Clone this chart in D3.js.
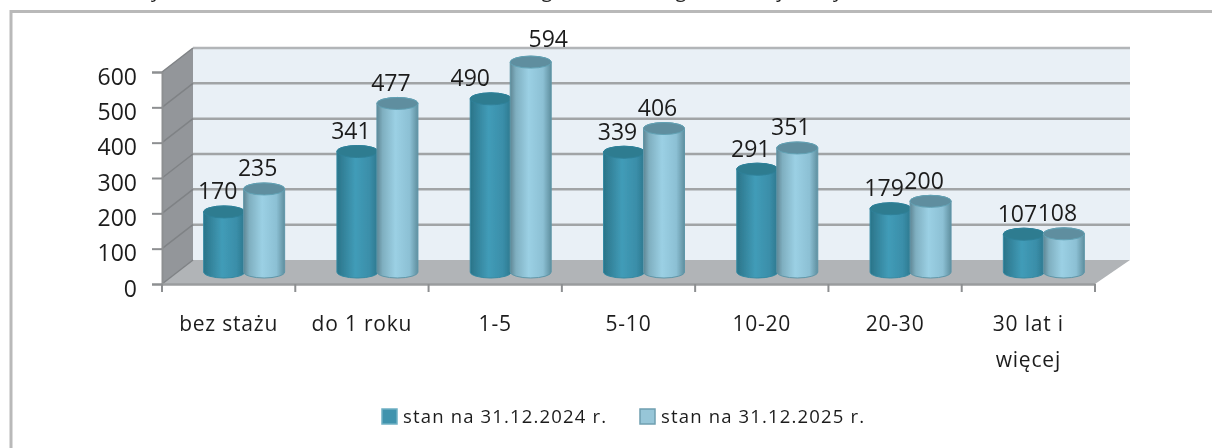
<!DOCTYPE html>
<html>
<head>
<meta charset="utf-8">
<script src="https://cdn.jsdelivr.net/npm/d3@7"></script>
<style>
  html, body { margin: 0; padding: 0; background: #fff; overflow: hidden; }
  text { font-family: "Open Sans", sans-serif; fill: #1c1c1c; }
</style>
</head>
<body>
<div id="chart"></div>
<script>
// values
var categories = ["bez stażu", "do 1 roku", "1-5", "5-10", "10-20", "20-30", "30 lat i więcej"];
var series = ["stan na 31.12.2024 r.", "stan na 31.12.2025 r."];
var values2024 = [170, 341, 490, 339, 291, 179, 107];
var values2025 = [235, 477, 594, 406, 351, 200, 108];
var yTicks = [0, 100, 200, 300, 400, 500, 600];
// bottom edge of the title line above the chart, only the descenders show
var titleLetters = ["y", "g", "g", "j", "y"];

var svgWidth = 1212;
var svgHeight = 448;

// 3d box: front plane and how far the back wall is shifted
var front = { left: 162, right: 1095, top: 72, bottom: 284 };
var depthX = 31;
var depthY = 24;
var backRight = 1130;
var rx = 20.5;
var ry = 6;

var svg = d3.select("#chart")
  .append("svg")
  .attr("width", svgWidth)
  .attr("height", svgHeight);

var defs = svg.append("defs");

// the picture is a soft, upscaled screenshot
defs.append("filter")
  .attr("id", "soft")
  .attr("x", "-2%").attr("y", "-2%").attr("width", "104%").attr("height", "104%")
  .append("feGaussianBlur")
  .attr("stdDeviation", 0.55);

function barGradient(id, stops) {
  var g = defs.append("linearGradient").attr("id", id);
  stops.forEach(function(s) {
    g.append("stop").attr("offset", s[0]).attr("stop-color", s[1]);
  });
}
barGradient("dark", [[0, "#2a7488"], [0.12, "#317f96"], [0.45, "#419cb8"], [0.8, "#3a8ea9"], [1, "#2d788e"]]);
barGradient("light", [[0, "#5f8795"], [0.14, "#7fafc0"], [0.45, "#9bd0e4"], [0.8, "#8cc0d4"], [1, "#5f8f9f"]]);

var chart = svg.append("g").attr("filter", "url(#soft)");

// outer frame, runs off the right and bottom of the picture
chart.append("path")
  .attr("d", "M11,460V11.5H1230")
  .attr("fill", "none")
  .attr("stroke", "#b9b9b9")
  .attr("stroke-width", 3);

chart.selectAll("text.title")
  .data(titleLetters)
  .enter()
  .append("text")
  .attr("class", "title")
  .attr("x", (d, i) => [156, 547, 681, 780, 838][i])
  .attr("y", -3)
  .attr("text-anchor", "middle")
  .attr("font-size", 20)
  .text(d => d);

var x = d3.scaleBand().domain(categories).range([front.left, front.right]);
var y = d3.scaleLinear().domain([0, 600]).range([front.bottom, front.top]);
var inner = d3.scaleBand().domain([0, 1]).range([-40, 40]);

// back wall
chart.append("rect")
  .attr("x", front.left + depthX)
  .attr("y", front.top - depthY)
  .attr("width", backRight - front.left - depthX)
  .attr("height", front.bottom - front.top)
  .attr("fill", "#e9f0f6");

// left wall
chart.append("polygon")
  .attr("points", [
    [front.left, front.top],
    [front.left + depthX, front.top - depthY],
    [front.left + depthX, front.bottom - depthY],
    [front.left, front.bottom]
  ].join(" "))
  .attr("fill", "#93969a");

// floor
chart.append("polygon")
  .attr("points", [
    [front.left, front.bottom],
    [front.left + depthX, front.bottom - depthY],
    [backRight, front.bottom - depthY],
    [front.right, front.bottom]
  ].join(" "))
  .attr("fill", "#b1b4b7");

// gridlines on the back and left walls
chart.selectAll("line.grid")
  .data(yTicks.slice(1))
  .enter()
  .append("line")
  .attr("class", "grid")
  .attr("x1", front.left + depthX)
  .attr("x2", backRight)
  .attr("y1", d => y(d) - depthY)
  .attr("y2", d => y(d) - depthY)
  .attr("stroke", d => d === 600 ? "#b2b5b8" : "#a1a4a6")
  .attr("stroke-width", 2.5);

chart.selectAll("line.side")
  .data(yTicks)
  .enter()
  .append("line")
  .attr("class", "side")
  .attr("x1", front.left)
  .attr("x2", front.left + depthX)
  .attr("y1", d => y(d))
  .attr("y2", d => y(d) - depthY)
  .attr("stroke", "#7f8285")
  .attr("stroke-width", 1.5);

// axes
var yAxis = chart.append("g")
  .attr("transform", `translate(${front.left}, 0)`)
  .call(d3.axisLeft(y).tickValues(yTicks).tickSize(10).tickPadding(15));

var xAxis = chart.append("g")
  .attr("transform", `translate(0, ${front.bottom})`)
  .call(d3.axisBottom(x).tickSize(0).tickFormat(""));

chart.selectAll(".tick line, .domain").attr("stroke", "#8d8f91").attr("stroke-width", 2);
xAxis.select(".domain").attr("stroke", "#9a9c9e").attr("stroke-width", 2.5);
yAxis.selectAll("text")
  .attr("font-size", 23)
  .attr("dy", "0.53em")
  .attr("fill", "#1c1c1c");

// d3 band axis ticks sit mid-band, the chart has them at the band edges
chart.selectAll("line.xtick")
  .data(categories.concat([null]))
  .enter()
  .append("line")
  .attr("class", "xtick")
  .attr("x1", (d, i) => d === null ? front.right : x(d))
  .attr("x2", (d, i) => d === null ? front.right : x(d))
  .attr("y1", front.bottom)
  .attr("y2", front.bottom + 8)
  .attr("stroke", "#8d8f91")
  .attr("stroke-width", 2);

// category labels, long ones wrap on two lines
var catLabels = chart.selectAll("text.cat")
  .data(categories)
  .enter()
  .append("text")
  .attr("class", "cat")
  .attr("text-anchor", "middle")
  .attr("font-size", 21)
  .attr("letter-spacing", 0.8)
  .attr("y", 331);

catLabels.each(function(d) {
  var lines = d === "30 lat i więcej" ? ["30 lat i", "więcej"] : [d];
  var t = d3.select(this);
  lines.forEach(function(line, i) {
    t.append("tspan")
      .attr("x", x(d) + x.bandwidth() / 2)
      .attr("dy", i === 0 ? 0 : 36)
      .text(line);
  });
});

function cylinder(cx, top, base) {
  return `M${cx - rx},${top}` +
    `L${cx - rx},${base}` +
    `A${rx},${ry} 0 0 0 ${cx + rx},${base}` +
    `L${cx + rx},${top}` +
    `A${rx},${ry} 0 0 0 ${cx - rx},${top}Z`;
}

var barStyles = [
  { fill: "url(#dark)", stroke: "#358aa3", cap: "#2f7c90", capEdge: "#2f8199" },
  { fill: "url(#light)", stroke: "#5f96a8", cap: "#5f8e9f", capEdge: "#62a2b5" }
];

// hand-moved labels in the middle group, the rest keep the default spot
var labelNudge = { "1-5|0": [-14, 0], "1-5|1": [24, -3] };

var allValues = [values2024, values2025];

allValues.forEach(function(vals, s) {
  var st = barStyles[s];
  var centre = c => x(c) + x.bandwidth() / 2 + depthX / 2 + inner(s) + inner.bandwidth() / 2;
  var base = y(0) - depthY / 2;
  var groups = chart.selectAll("g.bar" + s)
    .data(categories.map((c, i) => ({ c: c, v: vals[i] })))
    .enter()
    .append("g")
    .attr("class", "bar" + s);

  groups.append("path")
    .attr("d", d => cylinder(centre(d.c), base - (y(0) - y(d.v)), base))
    .attr("fill", st.fill)
    .attr("stroke", st.stroke)
    .attr("stroke-width", 1);

  groups.append("ellipse")
    .attr("cx", d => centre(d.c))
    .attr("cy", d => base - (y(0) - y(d.v)))
    .attr("rx", rx)
    .attr("ry", ry)
    .attr("fill", st.cap)
    .attr("stroke", st.capEdge)
    .attr("stroke-width", 1);
});

// data labels go on top of every bar
allValues.forEach(function(vals, s) {
  var base = y(0) - depthY / 2;
  chart.selectAll("text.val" + s)
    .data(categories.map((c, i) => ({ c: c, v: vals[i] })))
    .enter()
    .append("text")
    .attr("class", "val" + s)
    .attr("text-anchor", "middle")
    .attr("font-size", 23)
    .attr("x", d => {
      var nudge = labelNudge[d.c + "|" + s] || [0, 0];
      return x(d.c) + x.bandwidth() / 2 + depthX / 2 + inner(s) + inner.bandwidth() / 2 - 6.5 + nudge[0];
    })
    .attr("y", d => {
      var nudge = labelNudge[d.c + "|" + s] || [0, 0];
      return base - (y(0) - y(d.v)) - 12.5 + nudge[1];
    })
    .text(d => d.v);
});

// legend
var legendX = [382, 640];
var legend = chart.selectAll("g.legend")
  .data(series)
  .enter()
  .append("g")
  .attr("class", "legend")
  .attr("transform", (d, i) => `translate(${legendX[i]}, 409)`);

legend.append("rect")
  .attr("width", 15)
  .attr("height", 15)
  .attr("fill", (d, i) => i === 0 ? "#3f93ad" : "#97c6d8")
  .attr("stroke", (d, i) => i === 0 ? "#6fb0c4" : "#6f9fb0")
  .attr("stroke-width", 1.5);

legend.append("text")
  .attr("x", 21)
  .attr("y", 14)
  .attr("font-size", 18.5)
  .attr("textLength", 203)
  .attr("lengthAdjust", "spacing")
  .text(d => d);
</script>
</body>
</html>
